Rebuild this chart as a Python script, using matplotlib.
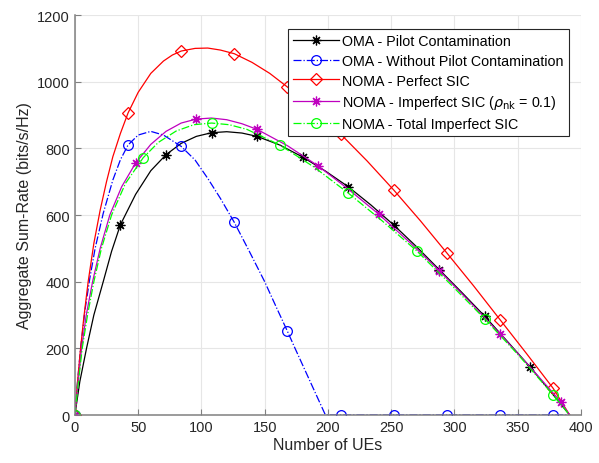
import matplotlib.pyplot as plt

plt.rcParams['font.family'] = ['Liberation Sans', 'DejaVu Sans']

# OMA - Pilot Contamination
oma_pc_x = [0, 3.9, 9.2, 15, 22.4, 29, 36, 48, 60, 72, 84, 96, 108, 120, 132, 144, 162, 180,
            198, 216, 234, 252, 270, 288, 306, 324, 342, 360, 376, 391]
oma_pc_y = [0, 100, 200, 300, 400, 491, 571, 662, 733, 781, 815, 836, 847, 850, 846, 836, 810, 774,
            732, 685, 630, 570, 505, 436, 367, 296, 220, 143, 70, 0]
oma_pc_mk = [0, 36, 72, 108, 144, 180, 216, 252, 288, 324, 360]

# OMA - Without Pilot Contamination
oma_x = [0, 2, 4.5, 8, 11.8, 16, 22.4, 30, 36, 42, 50, 60, 70, 84, 95, 105, 115, 126, 138, 150,
         159, 168, 174, 186, 198, 210, 252, 294, 336, 378, 390]
oma_y = [0, 95, 200, 315, 410, 500, 605, 705, 766, 810, 840, 851, 840, 806, 765, 710, 650, 578, 490, 400,
         325, 251, 200, 100, 0, 0, 0, 0, 0, 0, 0]
oma_mk = [0, 42, 84, 126, 168, 210, 252, 294, 336, 378]

# NOMA - Perfect SIC
noma_p_x = [0, 2, 4.5, 7, 10.5, 15, 20, 25, 30, 36, 42, 50, 60, 70, 77, 84, 95, 105, 115, 126,
            140, 154, 168, 189, 210, 231, 252, 273, 294, 315, 336, 357, 378, 391]
noma_p_y = [0, 95, 200, 290, 400, 515, 615, 700, 775, 845, 906, 968, 1025, 1062, 1080, 1092, 1100, 1101, 1095, 1084,
            1058, 1025, 984, 918, 843, 762, 675, 583, 486, 388, 286, 184, 80, 0]
noma_p_mk = [0, 42, 84, 126, 168, 210, 252, 294, 336, 378]

# NOMA - Imperfect SIC (rho = 0.1)
noma_i_x = [0, 2.6, 5.3, 9, 14, 20, 27.6, 37, 48, 60, 72, 84, 96, 108, 120, 132, 144, 168, 192,
            216, 240, 264, 288, 312, 336, 360, 384, 391]
noma_i_y = [0, 100, 200, 300, 400, 500, 600, 685, 756, 812, 851, 876, 888, 891, 886, 874, 857, 808, 748,
            678, 603, 520, 433, 340, 243, 143, 40, 0]
noma_i_mk = [0, 48, 96, 144, 192, 240, 288, 336, 384]

# NOMA - Total Imperfect SIC
noma_t_x = [0, 2.8, 5.8, 10, 15, 21, 29, 40, 54, 66, 80, 94, 108, 122, 136, 162, 189, 216, 243,
            270, 297, 324, 351, 378, 391]
noma_t_y = [0, 100, 200, 300, 400, 500, 600, 695, 772, 818, 852, 871, 876, 871, 857, 810, 744, 666, 582,
            493, 392, 288, 178, 60, 0]
noma_t_mk = [0, 54, 108, 162, 216, 270, 324, 378]

ast = (8, 2, 0)
series = [
    (oma_pc_x, oma_pc_y, oma_pc_mk, 'k', '-', ast, 'OMA - Pilot Contamination'),
    (oma_x, oma_y, oma_mk, 'b', '-.', 'o', 'OMA - Without Pilot Contamination'),
    (noma_p_x, noma_p_y, noma_p_mk, 'r', '-', 'D', 'NOMA - Perfect SIC'),
    (noma_i_x, noma_i_y, noma_i_mk, 'm', '-', ast, r'NOMA - Imperfect SIC ($\rho_{\rm nk}$ = 0.1)'),
    (noma_t_x, noma_t_y, noma_t_mk, 'lime', '-.', 'o', 'NOMA - Total Imperfect SIC'),
]

fig = plt.figure(figsize=(5.99, 4.64), dpi=100)
ax = fig.add_axes([0.125, 0.1034, 0.845, 0.862])

for x, y, mk, c, ls, m, lab in series:
    idx = [x.index(v) for v in mk]
    ms = 6.5 if m == 'D' else 7
    ax.plot(x, y, color=c, ls=ls, lw=0.9, marker=m, markevery=idx, ms=ms,
            mfc='none', mec=c, mew=0.9, label=lab)

ax.set_xlim(0, 400)
ax.set_ylim(0, 1200)
ax.set_xticks(range(0, 401, 50))
ax.set_yticks(range(0, 1201, 200))
ax.grid(True, color='#e6e6e6', lw=0.8)
ax.set_axisbelow(True)
for s in ['top', 'right']:
    ax.spines[s].set_visible(False)
for s in ['left', 'bottom']:
    ax.spines[s].set_color('#808080')
    ax.spines[s].set_linewidth(1.1)
ax.tick_params(colors='#262626', labelsize=10.5, direction='in', length=4)
ax.tick_params(axis='both', color='#808080')
ax.set_xlabel('Number of UEs', fontsize=11.5, color='#262626', labelpad=2)
ax.set_ylabel('Aggregate Sum-Rate (bits/s/Hz)', fontsize=11.5, color='#262626', labelpad=4)

leg = ax.legend(loc='upper right', bbox_to_anchor=(0.976, 0.965), fontsize=10.3, fancybox=False,
                framealpha=1, edgecolor='#262626', borderpad=0.35, labelspacing=0.4,
                handlelength=3.2, handletextpad=0.25, borderaxespad=0)
leg.get_frame().set_linewidth(0.8)

fig.savefig('out.png', dpi=100)
